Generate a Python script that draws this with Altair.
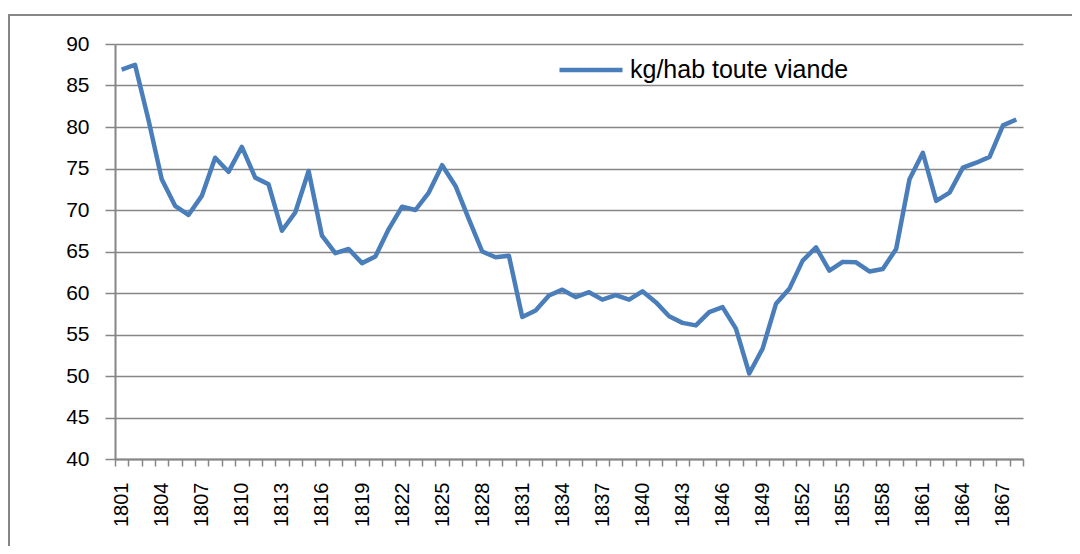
import altair as alt
import pandas as pd

years = list(range(1801, 1869))
values = [
    86.9, 87.5, 80.9, 73.7, 70.5, 69.4, 71.7, 76.3, 74.6, 77.6,
    73.9, 73.1, 67.5, 69.7, 74.7, 66.9, 64.8, 65.3, 63.6, 64.4,
    67.7, 70.4, 70.0, 72.1, 75.4, 72.9, 68.9, 65.0, 64.3, 64.5,
    57.1, 57.9, 59.7, 60.4, 59.5, 60.1, 59.2, 59.75, 59.2, 60.2,
    58.9, 57.2, 56.4, 56.1, 57.7, 58.3, 55.7, 50.3, 53.3, 58.7,
    60.5, 63.9, 65.5, 62.7, 63.75, 63.7, 62.6, 62.9, 65.3, 73.7,
    76.9, 71.1, 72.1, 75.1, 75.7, 76.4, 80.2, 80.9,
]
series_name = "kg/hab toute viande"
y_ticks = list(range(40, 95, 5))
label_years = list(range(1801, 1869, 3))
boundaries = [y - 0.5 for y in range(1801, 1870)]

df = pd.DataFrame({"year": years, "value": values, "series": [series_name] * len(years)})

W, H = 908, 415
grey = "#868686"

x_axis = alt.Axis(
    values=sorted(boundaries + label_years),
    labelExpr="datum.value % 1 == 0 ? toString(datum.value) : ''",
    labelAngle=-90,
    labelAlign="right",
    labelBaseline="middle",
    labelFont="Liberation Sans",
    labelFontSize=20,
    labelColor="#000000",
    labelPadding=16,
    labelOverlap=False,
    labelBound=False,
    labelFlush=False,
    tickSize=7,
    tickColor=grey,
    tickWidth=1.5,
    tickOpacity={"condition": {"test": "datum.value % 1 == 0", "value": 0}, "value": 1},
    domainColor=grey,
    domainWidth=2,
    grid=False,
    title=None,
)

y_axis = alt.Axis(
    values=y_ticks,
    labelFont="Liberation Sans",
    labelFontSize=21,
    labelColor="#000000",
    labelPadding=16,
    tickSize=10,
    tickColor=grey,
    tickWidth=1.5,
    domainColor=grey,
    domainWidth=2,
    gridColor=grey,
    gridWidth=1.3,
    title=None,
)

line = alt.Chart(df).mark_line(strokeWidth=4.5, strokeJoin="round").encode(
    x=alt.X("year:Q", scale=alt.Scale(domain=[1800.5, 1868.5], nice=False, zero=False), axis=x_axis),
    y=alt.Y("value:Q", scale=alt.Scale(domain=[40, 90], nice=False, zero=False), axis=y_axis),
    color=alt.Color(
        "series:N",
        scale=alt.Scale(range=["#4A7EBB"]),
        legend=alt.Legend(
            title=None,
            orient="none",
            legendX=442,
            legendY=-8,
            symbolType="stroke",
            symbolSize=3969,
            symbolStrokeWidth=4.5,
            labelFont="Liberation Sans",
            labelFontSize=25,
            labelColor="#000000",
            labelOffset=5,
            labelLimit=400,
        ),
    ),
)

frame = alt.Chart(pd.DataFrame({"a": [0]})).mark_rect(
    fillOpacity=0, stroke=grey, strokeWidth=2
).encode(
    x=alt.value(-106), x2=alt.value(990), y=alt.value(-29), y2=alt.value(540)
)

chart = alt.layer(frame, line).properties(
    width=W,
    height=H,
    autosize=alt.AutoSizeParams(type="none"),
    padding={"left": 107, "top": 36, "right": 49, "bottom": 87},
    background="white",
).configure_view(stroke=None)

chart.save("out.html", embed_options={"renderer": "svg", "actions": False})
